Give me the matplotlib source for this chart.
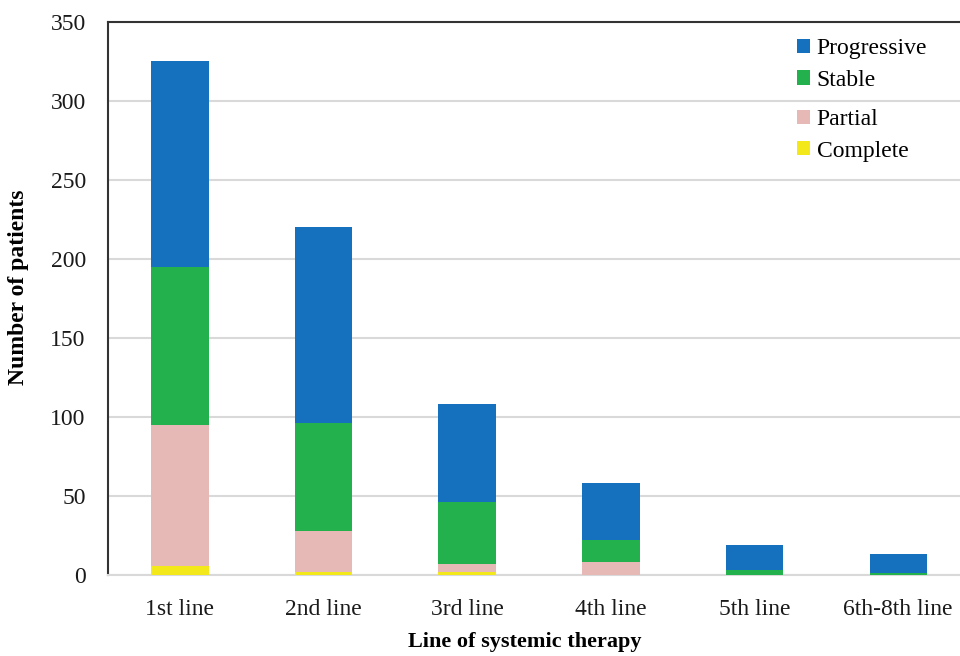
import matplotlib
matplotlib.use("Agg")
import matplotlib.pyplot as plt
import numpy as np

# datos
lines = ["1st line", "2nd line", "3rd line", "4th line", "5th line", "6th-8th line"]
complete = [6, 2, 2, 0, 0, 0]
partial = [89, 26, 5, 8, 0, 0]
stable = [100, 68, 39, 14, 3, 1]
progressive = [130, 124, 62, 36, 16, 12]

series = [("Complete", complete, "#F2E81A"),
          ("Partial", partial, "#E6B9B6"),
          ("Stable", stable, "#22B14C"),
          ("Progressive", progressive, "#1570BE")]

plt.rcParams['font.family'] = ['Liberation Serif', 'DejaVu Serif']

fig = plt.figure(figsize=(9.6, 6.56), dpi=100)
ax = fig.add_axes([0.1125, 0.1235, 0.898, 0.843])

x = np.arange(len(lines))
bottom = np.zeros(len(lines))
handles = {}
for name, vals, col in series:
    b = ax.bar(x, vals, 0.4, bottom=bottom, color=col, label=name, zorder=3)
    handles[name] = b
    bottom = bottom + np.array(vals)

ax.set_xlim(-0.5, 5.5)
ax.set_ylim(0, 350)
ax.set_yticks(np.arange(0, 351, 50))
ax.set_xticks(x)
ax.set_xticklabels(lines)
ax.yaxis.grid(True, color="#D9D9D9", lw=1.5, zorder=0)
ax.tick_params(length=0, labelsize=17, colors="#1a1a1a")
ax.tick_params(axis="x", pad=17)
ax.tick_params(axis="y", pad=16)

for s in ["top", "left"]:
    ax.spines[s].set_color("#333333")
    ax.spines[s].set_linewidth(1.5)
ax.spines["right"].set_visible(False)
ax.spines["bottom"].set_color("#D9D9D9")
ax.spines["bottom"].set_linewidth(1.5)

ax.set_xlabel("Line of systemic therapy", fontsize=16, fontweight="bold")
ax.xaxis.set_label_coords(0.484, -0.103)
ax.set_ylabel("Number of patients", fontsize=17, fontweight="bold")
ax.yaxis.set_label_coords(-0.092, 0.52)

# leyenda en dos partes (espaciado desigual como en el original)
kw = dict(frameon=False, fontsize=17, handlelength=0.55, handleheight=0.55,
          handletextpad=0.3, labelspacing=0.45, borderpad=0, loc="upper left")
leg1 = ax.legend([handles["Progressive"], handles["Stable"]], ["Progressive", "Stable"],
                 bbox_to_anchor=(0.785, 0.992), **kw)
ax.add_artist(leg1)
ax.legend([handles["Partial"], handles["Complete"]], ["Partial", "Complete"],
          bbox_to_anchor=(0.785, 0.864), **kw)

fig.savefig("out.png", dpi=100)
